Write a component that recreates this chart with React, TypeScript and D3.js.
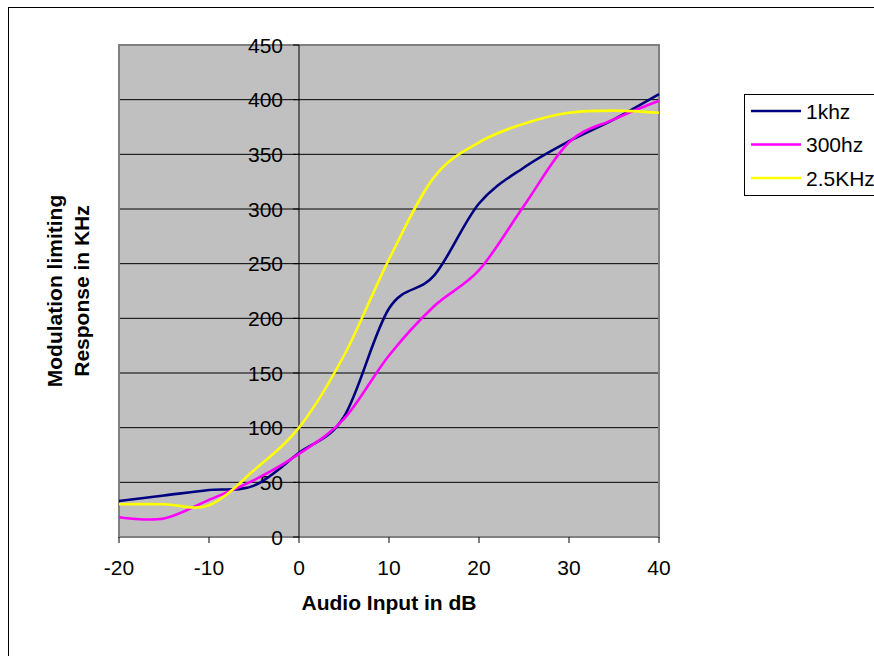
import * as d3 from 'd3';

// x values (Audio Input in dB)
const inputDb = [-20, -15, -10, -5, 0, 5, 10, 15, 20, 25, 30, 35, 40];

// series values (Modulation limiting response in KHz)
const khz1 = [33, 38, 43, 47, 77, 110, 209, 239, 305, 338, 362, 382, 405];
const hz300 = [18, 17, 34, 52, 76, 108, 166, 211, 244, 303, 361, 382, 399];
const khz25 = [30, 30, 29, 61, 100, 166, 254, 329, 361, 378, 388, 390, 388];

const seriesNames = ['1khz', '300hz', '2.5KHz'];
const seriesColors = ['#000080', '#FF00FF', '#FFFF00'];
const seriesValues = [khz1, hz300, khz25];

const xTicks = [-20, -10, 0, 10, 20, 30, 40];
const yTicks = [0, 50, 100, 150, 200, 250, 300, 350, 400, 450];

const FONT = "Arial, 'Liberation Sans', sans-serif";

export default function App() {
  const width = 874;
  const height = 656;
  const plot = { left: 119, right: 659, top: 45, bottom: 537 };

  const x = d3.scaleLinear().domain([-20, 40]).range([plot.left, plot.right]);
  const y = d3.scaleLinear().domain([0, 450]).range([plot.bottom, plot.top]);

  const line = d3
    .line<number>()
    .x((_, i) => x(inputDb[i]))
    .y((d) => y(d))
    .curve(d3.curveCatmullRom.alpha(0));

  const legend = { left: 744, top: 94, bottom: 195 };
  const legendY = d3
    .scalePoint<string>()
    .domain(seriesNames)
    .range([legend.top + 17, legend.bottom - 17]);

  return (
    <svg
      width={width}
      height={height}
      style={{ position: 'absolute', left: 0, top: 0, background: '#fff' }}
      fontFamily={FONT}
    >
      {/* chart area border */}
      <rect x={8.5} y={7.5} width={900} height={700} fill="#fff" stroke="#000" strokeWidth={1} />

      {/* plot area */}
      <rect
        x={plot.left}
        y={plot.top}
        width={plot.right - plot.left}
        height={plot.bottom - plot.top}
        fill="#C0C0C0"
      />
      {yTicks
        .filter((t) => t > 0 && t < 450)
        .map((t) => (
          <line
            key={`g${t}`}
            x1={plot.left}
            x2={plot.right}
            y1={y(t)}
            y2={y(t)}
            stroke="#000"
            strokeWidth={1}
          />
        ))}
      <rect
        x={plot.left}
        y={plot.top}
        width={plot.right - plot.left}
        height={plot.bottom - plot.top}
        fill="none"
        stroke="#808080"
        strokeWidth={2}
      />

      {/* y axis at x = 0 */}
      <line x1={x(0)} x2={x(0)} y1={plot.top} y2={plot.bottom} stroke="#000" strokeWidth={1} />
      {yTicks.map((t) => (
        <g key={`y${t}`}>
          <line x1={x(0) - 6} x2={x(0)} y1={y(t)} y2={y(t)} stroke="#000" strokeWidth={1} />
          <text
            x={x(0) - 16}
            y={y(t)}
            textAnchor="end"
            dominantBaseline="central"
            fontSize={21}
            fill="#000"
          >
            {t}
          </text>
        </g>
      ))}

      {/* x axis ticks */}
      {xTicks.map((t) => (
        <g key={`x${t}`}>
          <line x1={x(t)} x2={x(t)} y1={plot.bottom} y2={plot.bottom + 6} stroke="#000" strokeWidth={1} />
          <text x={x(t)} y={575} textAnchor="middle" fontSize={21} fill="#000">
            {t}
          </text>
        </g>
      ))}

      {/* series */}
      {seriesValues.map((vals, i) => (
        <path
          key={seriesNames[i]}
          d={line(vals) || ''}
          fill="none"
          stroke={seriesColors[i]}
          strokeWidth={2.6}
        />
      ))}

      {/* axis titles */}
      <text
        x={(plot.left + plot.right) / 2}
        y={610}
        textAnchor="middle"
        fontSize={21}
        fontWeight="bold"
        fill="#000"
      >
        Audio Input in dB
      </text>
      <g transform={`translate(61.5, ${(plot.top + plot.bottom) / 2}) rotate(-90)`}>
        <text x={0} y={0} textAnchor="middle" fontSize={21} fontWeight="bold" fill="#000">
          Modulation limiting
        </text>
        <text x={0} y={27} textAnchor="middle" fontSize={21} fontWeight="bold" fill="#000">
          Response in KHz
        </text>
      </g>

      {/* legend */}
      <rect
        x={legend.left + 0.5}
        y={legend.top + 0.5}
        width={200}
        height={legend.bottom - legend.top}
        fill="#fff"
        stroke="#000"
        strokeWidth={1}
      />
      {seriesNames.map((name, i) => (
        <g key={`l${name}`}>
          <line
            x1={751}
            x2={801}
            y1={legendY(name)}
            y2={legendY(name)}
            stroke={seriesColors[i]}
            strokeWidth={2.6}
          />
          <text x={806} y={legendY(name)} dominantBaseline="central" fontSize={21} fill="#000">
            {name}
          </text>
        </g>
      ))}
    </svg>
  );
}
